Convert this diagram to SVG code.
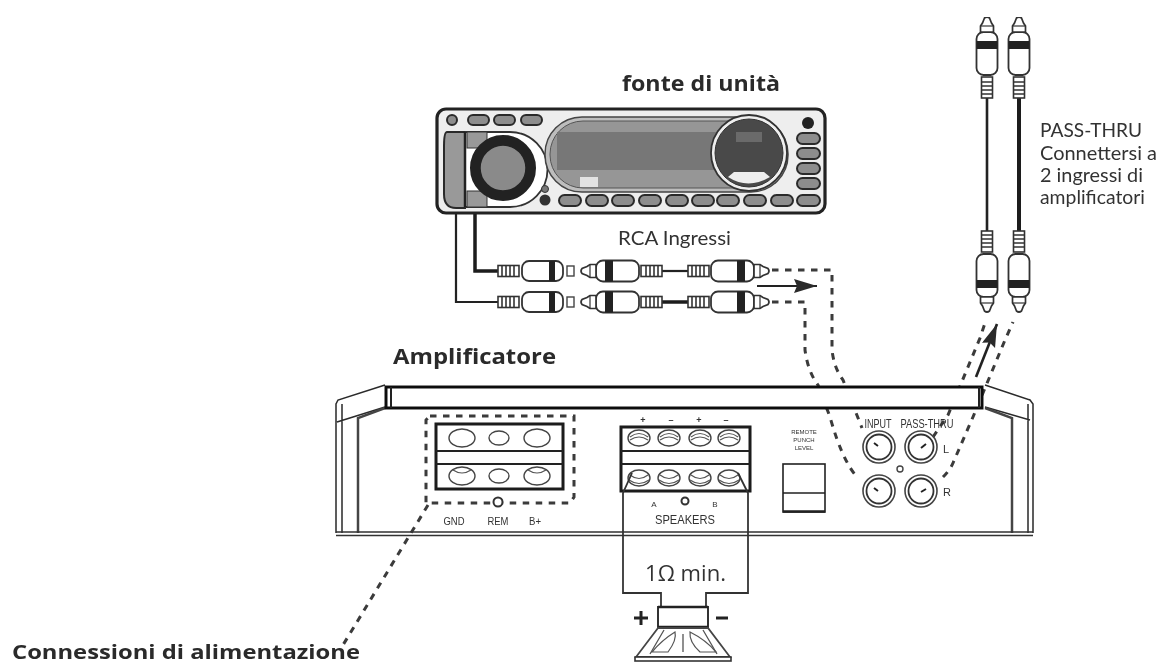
<svg xmlns="http://www.w3.org/2000/svg" width="1162" height="665" viewBox="0 0 1162 665">
<style>
.t{font-family:"Lato","Liberation Sans",sans-serif;fill:#333}
.b{font-family:"Open Sans","Liberation Sans",sans-serif;font-weight:700;fill:#2a2a2a}
.s{font-family:"Liberation Sans",sans-serif;fill:#333;text-anchor:middle}
.l{fill:none;stroke:#2a2a2a;stroke-width:1.5}
.c{fill:none;stroke:#222;stroke-width:2.2}
.k{fill:none;stroke:#1c1c1c;stroke-width:3.5}
.g{fill:none;stroke:#555;stroke-width:1.2}
.d{fill:none;stroke:#3a3a3a;stroke-width:3;stroke-dasharray:6.5 6.5}
.p{fill:#8d8d8d;stroke:#2a2a2a;stroke-width:2}
.o{fill:#fff;stroke:#444;stroke-width:1.4}
</style>
<defs>
<filter id="soft" x="0" y="0" width="100%" height="100%"><feGaussianBlur stdDeviation="0.55"/></filter>
<marker id="ah" markerUnits="userSpaceOnUse" markerWidth="24" markerHeight="16" refX="23" refY="7" orient="auto"><path d="M0 0L23 7L0 14L3 7Z" fill="#2a2a2a"/></marker>
<g id="ribs"><rect x="0" y="-5.5" width="21" height="11" fill="#fff" stroke="#333" stroke-width="1.6"/><path d="M4 -5.5V5.5M8 -5.5V5.5M12 -5.5V5.5M16 -5.5V5.5" stroke="#333" stroke-width="1.6"/></g>
<g id="plugA"><use href="#ribs"/><rect x="24" y="-10" width="41" height="20" rx="7" fill="#fff" stroke="#333" stroke-width="1.8"/><rect x="51" y="-10" width="6" height="20" fill="#222"/><rect x="69" y="-5" width="7" height="10" fill="#fff" stroke="#444" stroke-width="1.4"/></g>
<g id="plugB"><use href="#ribs"/><rect x="23" y="-10.5" width="43" height="21" rx="7" fill="#fff" stroke="#333" stroke-width="1.8"/><rect x="49" y="-10.5" width="8" height="21" fill="#222"/><path d="M66 -6.5H72L75 -4.5L80 -2.5Q82 0 80 2.5L75 4.5L72 6.5H66Z" fill="#fff" stroke="#333" stroke-width="1.7"/><path d="M72 -6V6" stroke="#333" stroke-width="1.2"/></g>
<g id="knob"><circle r="16" fill="#fff" stroke="#444" stroke-width="1.6"/><circle r="12.5" fill="#fff" stroke="#333" stroke-width="1.8"/></g>
<g id="postT"><ellipse rx="11" ry="8" class="o"/><path d="M-9 -1Q0 -8 9 -1" class="g"/><path d="M-9 2Q0 -4 9 2" class="g"/></g>
<g id="postB"><ellipse rx="11" ry="8" class="o"/><path d="M-9 -3Q0 4 9 -3" class="g"/><path d="M-10 2Q0 9 10 2" class="g"/></g>
</defs>
<rect width="1162" height="665" fill="#fff"/>
<g filter="url(#soft)">
<g id="connectors">
<path class="c" d="M456 213V302H498"/>
<path class="k" d="M475 213V271H498"/>
<path class="c" d="M662 271H688"/>
<path class="k" d="M662 302H688"/>
<path class="c" style="stroke-width:2.6" d="M987 98V231"/>
<path class="k" style="stroke-width:4" d="M1019 98V231"/>
<path class="d" d="M772 270H832V350Q834 368 843 380L862 428"/>
<path class="d" d="M772 302H805V350Q808 372 818 385L830 417Q842 460 857 477"/>
<path class="d" d="M943 477Q950 470 953 463L973 417L1005 340L1013 322"/>
<path class="d" d="M933 437L948 415L980 338L986 320"/>
<path class="d" d="M428 505L343 645"/>
<path class="c" marker-end="url(#ah)" d="M757 286H817"/>
<path class="c" style="stroke-width:2.6" marker-end="url(#ah)" d="M976 377L997 324"/>
</g>

<g id="head-unit">
<rect x="437" y="109" width="388" height="104" rx="9" fill="#eee" stroke="#222" stroke-width="3.2"/>
<circle cx="452" cy="120" r="5" class="p"/>
<rect x="468" y="115" width="21" height="10" rx="5" class="p"/><rect x="494" y="115" width="21" height="10" rx="5" class="p"/><rect x="521" y="115" width="21" height="10" rx="5" class="p"/>
<path d="M465 132H447Q444 132 444 146V194Q444 208 456 208H465Z" class="p" style="fill:#999"/>
<path d="M465 132H510A37 37 0 0 1 510 207H465" fill="#fff" stroke="#333" stroke-width="1.8"/>
<rect x="467" y="132" width="20" height="16" fill="#999" stroke="#333"/><rect x="467" y="191" width="20" height="16" fill="#999" stroke="#333"/>
<path d="M465 132V207" stroke="#222" stroke-width="2.5"/>
<circle cx="503" cy="168" r="28" fill="#8d8d8d" stroke="#222" stroke-width="10"/>
<circle cx="503" cy="168" r="23" fill="#8a8a8a" stroke="#222" stroke-width="1.5"/>
<circle cx="545" cy="189" r="3.5" fill="#777" stroke="#333"/><circle cx="545" cy="200" r="5.5" fill="#333"/>
<rect x="545" y="117" width="243" height="75" rx="37" fill="#bdbdbd" stroke="#444" stroke-width="1.5"/>
<rect x="550" y="121" width="233" height="67" rx="33" fill="#969696" stroke="#555"/>
<rect x="557" y="132" width="178" height="38" fill="#777"/>
<rect x="580" y="177" width="18" height="10" fill="#e2e2e2"/>
<circle cx="749" cy="153" r="38" fill="#eee" stroke="#333" stroke-width="1.8"/>
<circle cx="749" cy="153" r="34" fill="#4a4a4a" stroke="#333"/>
<path d="M728 177Q748 190 770 177L764 172H734Z" fill="#eee"/>
<rect x="736" y="132" width="26" height="10" fill="#6a6a6a"/>
<circle cx="808" cy="123" r="6" fill="#222"/>
<rect x="797" y="133" width="23" height="11" rx="5.5" class="p"/><rect x="797" y="148" width="23" height="11" rx="5.5" class="p"/><rect x="797" y="163" width="23" height="11" rx="5.5" class="p"/><rect x="797" y="178" width="23" height="11" rx="5.5" class="p"/>
<rect x="559" y="195" width="22" height="11" rx="5.5" class="p"/><rect x="586" y="195" width="22" height="11" rx="5.5" class="p"/><rect x="612" y="195" width="22" height="11" rx="5.5" class="p"/><rect x="639" y="195" width="22" height="11" rx="5.5" class="p"/><rect x="666" y="195" width="22" height="11" rx="5.5" class="p"/><rect x="692" y="195" width="22" height="11" rx="5.5" class="p"/><rect x="717" y="195" width="22" height="11" rx="5.5" class="p"/><rect x="744" y="195" width="22" height="11" rx="5.5" class="p"/><rect x="771" y="195" width="22" height="11" rx="5.5" class="p"/><rect x="797" y="195" width="23" height="11" rx="5.5" class="p"/>
</g>
<text id="label-source" class="b" x="622" y="91" font-size="21" textLength="158" lengthAdjust="spacingAndGlyphs">fonte di unità</text>
<text id="label-rca" class="t" x="618" y="245" font-size="19" textLength="113" lengthAdjust="spacingAndGlyphs">RCA Ingressi</text>

<g id="rca-plugs">
<use href="#plugA" transform="translate(498 271)"/>
<use href="#plugA" transform="translate(498 302)"/>
<use href="#plugB" transform="translate(662 271) scale(-1 1)"/>
<use href="#plugB" transform="translate(662 302) scale(-1 1)"/>
<use href="#plugB" transform="translate(688 271)"/>
<use href="#plugB" transform="translate(688 302)"/>
</g>
<g id="pass-thru-plugs">
<use href="#plugB" transform="translate(987 98) rotate(-90)"/>
<use href="#plugB" transform="translate(1019 98) rotate(-90)"/>
<use href="#plugB" transform="translate(987 231) rotate(90)"/>
<use href="#plugB" transform="translate(1019 231) rotate(90)"/>
</g>
<g id="label-pass" class="t" font-size="19"><text x="1040" y="137" textLength="102" lengthAdjust="spacingAndGlyphs">PASS-THRU</text><text x="1040" y="160" textLength="117" lengthAdjust="spacingAndGlyphs">Connettersi a</text><text x="1040" y="182" textLength="103" lengthAdjust="spacingAndGlyphs">2 ingressi di</text><text x="1040" y="204" textLength="105" lengthAdjust="spacingAndGlyphs">amplificatori</text></g>

<g id="amplifier">
<text class="b" x="393" y="364" font-size="21" textLength="163" lengthAdjust="spacingAndGlyphs">Amplificatore</text>
<path class="l" d="M336 533V404L338 400L385 385M342 533V404M337 422L385 407"/>
<path class="l" d="M1033 533V404L1030 400L985 385M1028 533V404M985 407L1030 420"/>
<path d="M358 533V418L385 408M1012 533V418L985 408" fill="none" stroke="#444" stroke-width="2.5"/>
<path d="M336 532H1033M336 535.5H1033" stroke="#333" stroke-width="1.6"/>
<rect x="386" y="387" width="596" height="21" fill="#fff" stroke="#111" stroke-width="3"/>
<path d="M391 387V408M979 387V408" stroke="#222" stroke-width="2"/>
</g>

<g id="power-terminal">
<path class="d" d="M430 416H574V497L570 503H426V420Z"/>
<rect x="436" y="424" width="127" height="65" fill="#fff" stroke="#1c1c1c" stroke-width="3"/>
<path d="M436 451H563M436 464H563" stroke="#222" stroke-width="1.8"/>
<ellipse cx="462" cy="438" rx="13" ry="9" class="o"/><ellipse cx="499" cy="438" rx="10" ry="7" class="o"/><ellipse cx="537" cy="438" rx="13" ry="9" class="o"/>
<ellipse cx="462" cy="476" rx="13" ry="9" class="o"/><ellipse cx="499" cy="476" rx="10" ry="7" class="o"/><ellipse cx="537" cy="476" rx="13" ry="9" class="o"/>
<path class="g" d="M453 470Q462 476 471 470M528 470Q537 476 546 470"/>
<circle cx="498" cy="502" r="4.5" fill="#fff" stroke="#333" stroke-width="2"/>
<text class="s" x="454" y="525" font-size="11.5" textLength="21" lengthAdjust="spacingAndGlyphs">GND</text><text class="s" x="498" y="525" font-size="11.5" textLength="21" lengthAdjust="spacingAndGlyphs">REM</text><text class="s" x="535" y="525" font-size="11.5" textLength="12" lengthAdjust="spacingAndGlyphs">B+</text>
</g>

<g id="speaker-terminal">
<rect x="621" y="427" width="129" height="64" fill="#fff" stroke="#1c1c1c" stroke-width="3"/>
<path d="M621 451H750M621 464H750" stroke="#222" stroke-width="1.8"/>
<use href="#postT" x="639" y="438"/><use href="#postT" x="669" y="438"/><use href="#postT" x="700" y="438"/><use href="#postT" x="729" y="438"/>
<use href="#postB" x="639" y="478"/><use href="#postB" x="669" y="478"/><use href="#postB" x="700" y="478"/><use href="#postB" x="729" y="478"/>
<text class="s" x="643" y="423" font-size="9" font-weight="700">+</text><text class="s" x="671" y="423" font-size="9" font-weight="700">–</text><text class="s" x="699" y="423" font-size="9" font-weight="700">+</text><text class="s" x="726" y="423" font-size="9" font-weight="700">–</text>
<text class="s" x="654" y="507" font-size="8">A</text><text class="s" x="715" y="507" font-size="8">B</text>
<circle cx="685" cy="501" r="3.5" fill="#fff" stroke="#333" stroke-width="2"/>
<text class="s" x="685" y="524" font-size="12" textLength="60" lengthAdjust="spacingAndGlyphs">SPEAKERS</text>
</g>

<g id="level-control">
<text class="s" font-size="6"><tspan x="804" y="434">REMOTE</tspan><tspan x="804" y="442">PUNCH</tspan><tspan x="804" y="450">LEVEL</tspan></text>
<rect x="783" y="464" width="42" height="48" fill="#fff" stroke="#222" stroke-width="1.6"/>
<path d="M783 493H825" stroke="#222" stroke-width="1.6"/>
<path d="M783 511.5H825" stroke="#222" stroke-width="2.5"/>
</g>

<g id="rca-inputs">
<text class="s" x="878" y="428" font-size="12" textLength="27" lengthAdjust="spacingAndGlyphs">INPUT</text><text class="s" x="927" y="428" font-size="12" textLength="53" lengthAdjust="spacingAndGlyphs">PASS-THRU</text>
<text class="s" x="946" y="453" font-size="11">L</text><text class="s" x="947" y="496" font-size="11">R</text>
<use href="#knob" x="879" y="447"/><use href="#knob" x="921" y="447"/><use href="#knob" x="879" y="491"/><use href="#knob" x="921" y="491"/>
<path d="M874 443L878 446M926 444L921 448M874 488L878 491M926 489L921 492" stroke="#222" stroke-width="2" fill="none"/>
<circle cx="900" cy="469" r="3" fill="#fff" stroke="#444" stroke-width="1.4"/>
</g>

<g id="speaker">
<path fill="none" stroke="#333" stroke-width="1.8" d="M632 473L623 493V593H661V607M738 473L748 493V593H706V607"/>
<text class="t" x="645" y="581" font-size="22" textLength="81" lengthAdjust="spacingAndGlyphs" style="font-family:'Open Sans',sans-serif">1Ω min.</text>
<rect x="658" y="607" width="50" height="20" fill="#fff" stroke="#333" stroke-width="2"/>
<path d="M658 607H708M658 627H708" stroke="#222" stroke-width="2.5"/>
<path d="M658 628L636 657H730L708 628Z" fill="#fff" stroke="#444" stroke-width="1.8"/>
<path d="M664 630L650 654M703 630L717 654M683 634V652" stroke="#555" stroke-width="1.3"/>
<path d="M675 632Q662 640 652 652H668Q677 640 675 632ZM690 632Q689 642 700 652H716Q706 640 690 632Z" fill="none" stroke="#555" stroke-width="1.2"/>
<rect x="635" y="657" width="96" height="4" fill="#fff" stroke="#333" stroke-width="1.6"/>
<path d="M634 618H648M641 611V625M716 618H728" stroke="#222" stroke-width="3" fill="none"/>
</g>

<text id="label-power" class="b" x="12" y="659" font-size="19" textLength="348" lengthAdjust="spacingAndGlyphs">Connessioni di alimentazione</text>
</g>
</svg>
